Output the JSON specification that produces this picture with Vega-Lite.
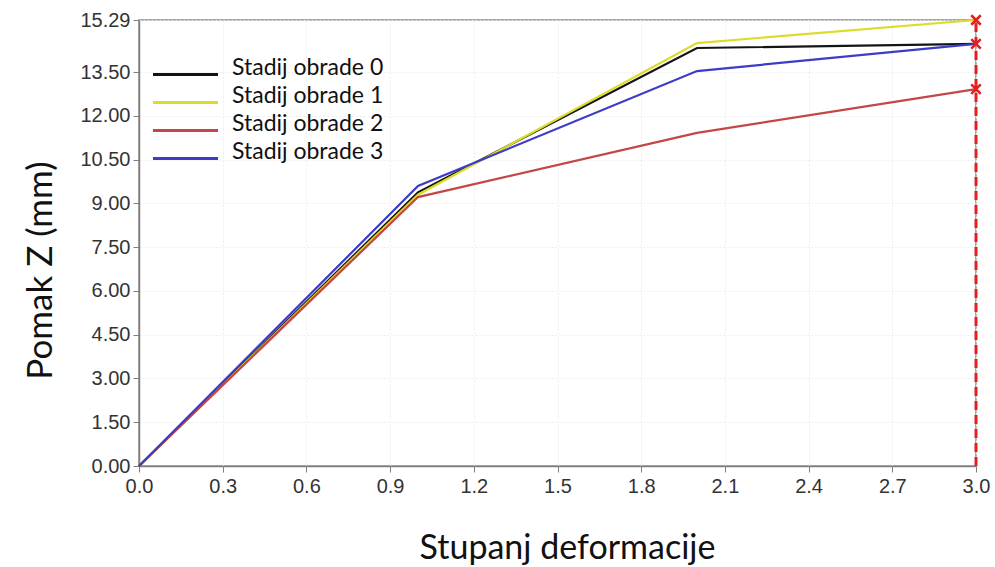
{
  "$schema": "https://vega.github.io/schema/vega-lite/v6.json",
  "width": 837,
  "height": 446,
  "autosize": {"type": "none"},
  "padding": {"left": 139, "top": 20, "right": 19, "bottom": 101},
  "background": "white",
  "config": {
    "view": {"stroke": "#8c8c8c", "strokeWidth": 1.5},
    "axis": {
      "labelFont": "Liberation Sans",
      "labelFontSize": 20,
      "labelColor": "#333333",
      "labelFlush": false,
      "titleFont": "Lato",
      "titleFontWeight": "normal",
      "titleColor": "#111111",
      "domainColor": "#7f7f7f",
      "domainWidth": 1.5,
      "tickColor": "#7f7f7f",
      "tickSize": 6,
      "gridColor": "#ececec",
      "gridDash": [2, 2]
    }
  },
  "datasets": {
    "series": [
      {"stage": "Stadij obrade 0", "x": 0, "y": 0},
      {"stage": "Stadij obrade 0", "x": 1, "y": 9.38},
      {"stage": "Stadij obrade 0", "x": 2, "y": 14.33},
      {"stage": "Stadij obrade 0", "x": 3, "y": 14.47},
      {"stage": "Stadij obrade 1", "x": 0, "y": 0},
      {"stage": "Stadij obrade 1", "x": 1, "y": 9.3},
      {"stage": "Stadij obrade 1", "x": 2, "y": 14.5},
      {"stage": "Stadij obrade 1", "x": 3, "y": 15.29},
      {"stage": "Stadij obrade 2", "x": 0, "y": 0},
      {"stage": "Stadij obrade 2", "x": 1, "y": 9.22},
      {"stage": "Stadij obrade 2", "x": 2, "y": 11.42},
      {"stage": "Stadij obrade 2", "x": 3, "y": 12.92},
      {"stage": "Stadij obrade 3", "x": 0, "y": 0},
      {"stage": "Stadij obrade 3", "x": 1, "y": 9.6},
      {"stage": "Stadij obrade 3", "x": 2, "y": 13.54},
      {"stage": "Stadij obrade 3", "x": 3, "y": 14.47}
    ],
    "cursor": [
      {"x": 3, "y": 0, "y2": 15.29}
    ],
    "markers": [
      {"x": 3, "y": 15.29},
      {"x": 3, "y": 14.47},
      {"x": 3, "y": 12.92}
    ]
  },
  "layer": [
    {
      "data": {"name": "series"},
      "mark": {"type": "line", "strokeWidth": 2.2},
      "encoding": {
        "x": {
          "field": "x", "type": "quantitative",
          "scale": {"domain": [0, 3], "nice": false, "zero": false},
          "axis": {
            "values": [0, 0.3, 0.6, 0.9, 1.2, 1.5, 1.8, 2.1, 2.4, 2.7, 3.0],
            "format": ".1f",
            "title": "Stupanj deformacije",
            "titleFontSize": 34,
            "titleX": 428,
            "titleY": 82,
            "titleBaseline": "middle",
            "labelPadding": 4
          }
        },
        "y": {
          "field": "y", "type": "quantitative",
          "scale": {"domain": [0, 15.29], "nice": false},
          "axis": {
            "values": [0, 1.5, 3, 4.5, 6, 7.5, 9, 10.5, 12, 13.5, 15.29],
            "format": ".2f",
            "title": "Pomak Z (mm)",
            "titleFontSize": 35,
            "titleX": -99,
            "titleY": 250,
            "titleBaseline": "middle",
            "titleAngle": -90,
            "labelPadding": 3
          }
        },
        "color": {
          "field": "stage", "type": "nominal",
          "scale": {
            "domain": ["Stadij obrade 0", "Stadij obrade 1", "Stadij obrade 2", "Stadij obrade 3"],
            "range": ["#141414", "#dcdc28", "#c44646", "#3c3cc8"]
          },
          "legend": {
            "title": null,
            "orient": "none",
            "legendX": 35,
            "legendY": 43,
            "symbolType": "M-3.25,0H3.25",
            "symbolSize": 400,
            "symbolStrokeWidth": 3,
            "labelFont": "Lato",
            "labelFontSize": 23,
            "labelColor": "#111111",
            "labelBaseline": "alphabetic",
            "labelOffset": 35,
            "rowPadding": 3,
            "padding": 0
          }
        }
      }
    },
    {
      "data": {"name": "cursor"},
      "mark": {"type": "rule", "color": "#e61e1e", "strokeWidth": 3, "strokeDash": [9, 5]},
      "encoding": {
        "x": {"field": "x", "type": "quantitative"},
        "y": {"field": "y", "type": "quantitative"},
        "y2": {"field": "y2"}
      }
    },
    {
      "data": {"name": "markers"},
      "mark": {"type": "point", "shape": "M-1,-1L1,1M1,-1L-1,1", "color": "#e61e1e", "strokeWidth": 2.5, "size": 90, "filled": false, "opacity": 1},
      "encoding": {
        "x": {"field": "x", "type": "quantitative"},
        "y": {"field": "y", "type": "quantitative"}
      }
    }
  ]
}
